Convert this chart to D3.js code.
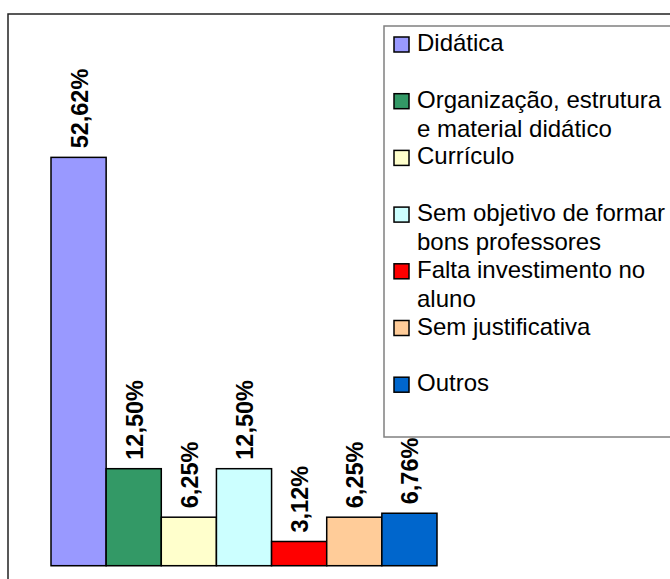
<!DOCTYPE html>
<html>
<head>
<meta charset="utf-8">
<script src="https://cdn.jsdelivr.net/npm/d3@7"></script>
<style>
  body { margin: 0; background: #fff; }
  svg { display: block; font-family: "Liberation Sans", Arial, sans-serif; }
</style>
</head>
<body>
<svg width="670" height="579"></svg>
<script>
// chart data
var legendLines = [
    ["Didática"],
    ["Organização, estrutura", "e material didático"],
    ["Currículo"],
    ["Sem objetivo de formar", "bons professores"],
    ["Falta investimento no", "aluno"],
    ["Sem justificativa"],
    ["Outros"]
];
var categories = legendLines.map(function(l) { return l.join(" "); });
var values = [52.62, 12.50, 6.25, 12.50, 3.12, 6.25, 6.76];
var colors = ["#9999FF", "#339966", "#FFFFCC", "#CCFFFF", "#FF0000", "#FFCC99", "#0066CC"];

var svg = d3.select("svg");

// outer frame (cut by the window at right and bottom)
svg.append("rect")
    .attr("x", 8).attr("y", 14)
    .attr("width", 700).attr("height", 600)
    .attr("fill", "none")
    .attr("stroke", "#222")
    .attr("stroke-width", 1.5);

var x = d3.scaleBand()
    .domain(categories)
    .range([51, 437])
    .padding(0);

var y = d3.scaleLinear()
    .domain([0, 60])
    .range([565.7, 565.7 - 60 * 7.76]);

// base line
svg.append("line")
    .attr("x1", x.range()[0]).attr("x2", x.range()[1])
    .attr("y1", y(0)).attr("y2", y(0))
    .attr("stroke", "#999")
    .attr("stroke-width", 1);

svg.selectAll("rect.bar")
    .data(values)
    .enter()
    .append("rect")
    .attr("class", "bar")
    .attr("x", function(d, i) { return x(categories[i]); })
    .attr("y", function(d) { return y(d); })
    .attr("width", x.bandwidth())
    .attr("height", function(d) { return y(0) - y(d); })
    .attr("fill", function(d, i) { return colors[i]; })
    .attr("stroke", "#000")
    .attr("stroke-width", 1.5);

var fmt = d3.format(".2f");
svg.selectAll("text.lbl")
    .data(values)
    .enter()
    .append("text")
    .attr("class", "lbl")
    .attr("transform", function(d, i) {
        var cx = x(categories[i]) + x.bandwidth() / 2 + 9;
        return "translate(" + cx + "," + (y(d) - 9) + ") rotate(-90)";
    })
    .attr("font-size", 23.5)
    .attr("font-weight", "bold")
    .attr("fill", "#000")
    .text(function(d) { return fmt(d).replace(".", ",") + "%"; });

// legend
var legend = svg.append("g");
legend.append("rect")
    .attr("x", 384).attr("y", 26)
    .attr("width", 300).attr("height", 411)
    .attr("fill", "#fff")
    .attr("stroke", "#808080")
    .attr("stroke-width", 1.5);

var items = legend.selectAll("g.item")
    .data(legendLines)
    .enter()
    .append("g")
    .attr("class", "item")
    .attr("transform", function(d, i) { return "translate(0," + (51 + i * 56.7) + ")"; });

items.append("rect")
    .attr("x", 394).attr("y", -14)
    .attr("width", 15).attr("height", 15)
    .attr("fill", function(d, i) { return colors[i]; })
    .attr("stroke", "#000")
    .attr("stroke-width", 1.5);

items.each(function(d) {
    var g = d3.select(this);
    d.forEach(function(line, k) {
        g.append("text")
            .attr("x", 417)
            .attr("y", k * 29)
            .attr("font-size", 24)
            .attr("fill", "#000")
            .text(line);
    });
});
</script>
</body>
</html>
